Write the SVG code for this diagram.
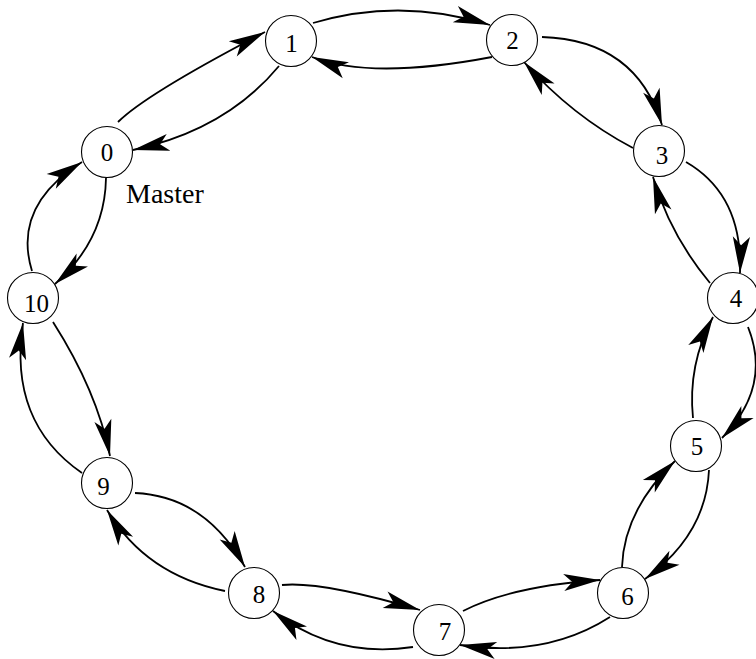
<svg xmlns="http://www.w3.org/2000/svg" width="756" height="659" viewBox="0 0 756 659">
<style>
.node circle{fill:#fff;stroke:#000;stroke-width:1.1}
.node text{font-family:"Liberation Serif","Times New Roman",serif;font-size:25px;text-anchor:middle;fill:#000}
.lbl{font-family:"Liberation Serif","Times New Roman",serif;font-size:28px;fill:#000}
#edges path{fill:none;stroke:#000;stroke-width:1.8;marker-end:url(#ah)}
</style>
<defs>
<marker id="ah" markerUnits="userSpaceOnUse" markerWidth="44" markerHeight="24" viewBox="-42 -12 46 24" refX="0" refY="0" orient="auto">
<path d="M0,0 L-38,-9 L-29,0 L-38,9 Z" fill="#000"/>
</marker>
</defs>
<rect width="756" height="659" fill="#fff"/>
<g id="edges">
<path d="M118,122 Q146,94 265,32"/>
<path d="M279,66 Q226,130 133,150"/>
<path d="M313,23 Q401,-3 490,25"/>
<path d="M492,57 Q371,80 312,57"/>
<path d="M542,37 Q636,40 662,125"/>
<path d="M633,148 Q572,116 524,62"/>
<path d="M686,162 Q743,195 740,273"/>
<path d="M710,283 Q670,235 653,177"/>
<path d="M748,327 Q772,387 722,438"/>
<path d="M693,418 Q687.6,364.5 713,317"/>
<path d="M709,470 Q706,535 645,579"/>
<path d="M622,567 Q624,510 675,461"/>
<path d="M610,617 Q546,658 460,645"/>
<path d="M463,611 Q512,586 600,580"/>
<path d="M413,647 Q335,659 273,611"/>
<path d="M282,585 Q321,581 420,610"/>
<path d="M135,493 Q205,496 245,567"/>
<path d="M225,591 Q146,575 107,510"/>
<path d="M53,322 Q97,391 110,456"/>
<path d="M82,473 Q8,422 23,323"/>
<path d="M32,271 Q12,206 82,162"/>
<path d="M106,178 Q105,240 55,284"/>
</g>
<g id="node0" class="node"><circle cx="107" cy="152" r="25.5"/><text x="107" y="161">0</text></g>
<g id="node1" class="node"><circle cx="291" cy="41" r="25.5"/><text x="291.5" y="51.5">1</text></g>
<g id="node2" class="node"><circle cx="512" cy="40" r="25.5"/><text x="512.5" y="48.5">2</text></g>
<g id="node3" class="node"><circle cx="659" cy="151" r="25.5"/><text x="662" y="164">3</text></g>
<g id="node4" class="node"><circle cx="733" cy="298" r="25.5"/><text x="736" y="306.5">4</text></g>
<g id="node5" class="node"><circle cx="696" cy="446" r="25.5"/><text x="697" y="455">5</text></g>
<g id="node6" class="node"><circle cx="623" cy="593" r="25.5"/><text x="627.5" y="604.5">6</text></g>
<g id="node7" class="node"><circle cx="439" cy="630" r="25.5"/><text x="445" y="640">7</text></g>
<g id="node8" class="node"><circle cx="254" cy="593" r="25.5"/><text x="259" y="602.5">8</text></g>
<g id="node9" class="node"><circle cx="107" cy="483" r="25.5"/><text x="103.5" y="495">9</text></g>
<g id="node10" class="node"><circle cx="33" cy="298" r="25.5"/><text x="36.5" y="312">10</text></g>
<text class="lbl" x="126" y="203">Master</text>
</svg>
